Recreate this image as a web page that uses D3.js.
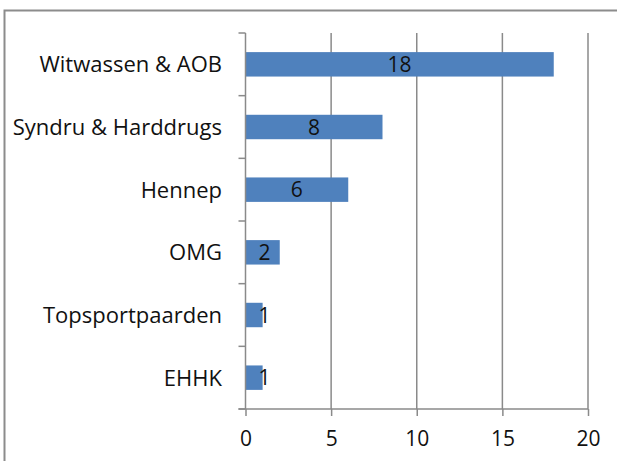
<!DOCTYPE html>
<html>
<head>
<meta charset="utf-8">
<script src="https://cdn.jsdelivr.net/npm/d3@7"></script>
<style>
  body { margin: 0; background: #fff; }
  text { font-family: "Open Sans", "Noto Sans", sans-serif; fill: #111; }
</style>
</head>
<body>
<div id="chart"></div>
<script>
const categories = ["Witwassen & AOB", "Syndru & Harddrugs", "Hennep", "OMG", "Topsportpaarden", "EHHK"];
const values = [18, 8, 6, 2, 1, 1];
const xTicks = [0, 5, 10, 15, 20];

const svg = d3.select("#chart").append("svg").attr("width", 617).attr("height", 461);
const margins = { top: 33, left: 245.5, right: 29, bottom: 52 };
const plotBottom = 409;

// outer frame (runs off the right and bottom edge)
svg.append("rect")
  .attr("x", 4.5).attr("y", 10.5)
  .attr("width", 640).attr("height", 480)
  .attr("fill", "none").attr("stroke", "#8c8c8c").attr("stroke-width", 2);

const x = d3.scaleLinear().domain([0, 20]).range([margins.left, 588]);
const y = d3.scaleBand().domain(categories).range([margins.top, plotBottom]).paddingInner(0.61).paddingOuter(0.305);

// gridlines
svg.append("g")
  .selectAll("line")
  .data(xTicks.slice(1))
  .join("line")
  .attr("x1", d => x(d)).attr("x2", d => x(d))
  .attr("y1", margins.top).attr("y2", plotBottom)
  .attr("stroke", "#8a8a8a").attr("stroke-width", 1.5);

// bars
svg.append("g")
  .selectAll("rect")
  .data(values)
  .join("rect")
  .attr("x", x(0))
  .attr("y", (d, i) => y(categories[i]))
  .attr("width", d => x(d) - x(0))
  .attr("height", y.bandwidth())
  .attr("fill", "#4f81bd");

// bar labels
svg.append("g")
  .selectAll("text")
  .data(values)
  .join("text")
  .attr("x", d => Math.max((x(d) + x(0)) / 2, x(0) + 19))
  .attr("y", (d, i) => y(categories[i]) + y.bandwidth() / 2)
  .attr("dy", "0.36em")
  .attr("text-anchor", "middle")
  .attr("font-size", "21px")
  .text(d => d);

// bottom axis
const bottomAxis = d3.axisBottom(x).tickValues(xTicks).tickSize(7).tickPadding(15);
const gx = svg.append("g")
  .attr("transform", `translate(0, ${plotBottom})`)
  .call(bottomAxis);
gx.select(".domain").attr("d", `M${x(0) - 7},0H${x(20)}`);
gx.selectAll("line").attr("stroke", "#8a8a8a").attr("stroke-width", 1.5);
gx.selectAll(".domain").attr("stroke", "#8a8a8a").attr("stroke-width", 1.5);
gx.selectAll("text").attr("font-size", "21px").attr("font-family", "Open Sans").attr("fill", "#111");

// left axis: ticks sit between categories
const yEdges = d3.range(categories.length + 1).map(i => margins.top + i * (plotBottom - margins.top) / categories.length);
const gy = svg.append("g");
gy.append("line")
  .attr("x1", x(0)).attr("x2", x(0))
  .attr("y1", margins.top).attr("y2", plotBottom)
  .attr("stroke", "#8a8a8a").attr("stroke-width", 1.5);
gy.selectAll(".tk")
  .data(yEdges)
  .join("line")
  .attr("class", "tk")
  .attr("x1", x(0) - 7).attr("x2", x(0))
  .attr("y1", d => d).attr("y2", d => d)
  .attr("stroke", "#8a8a8a").attr("stroke-width", 1.5);
gy.selectAll("text")
  .data(categories)
  .join("text")
  .attr("x", 222)
  .attr("y", d => y(d) + y.bandwidth() / 2)
  .attr("dy", "0.36em")
  .attr("text-anchor", "end")
  .attr("font-size", "22px")
  .text(d => d);
</script>
</body>
</html>
